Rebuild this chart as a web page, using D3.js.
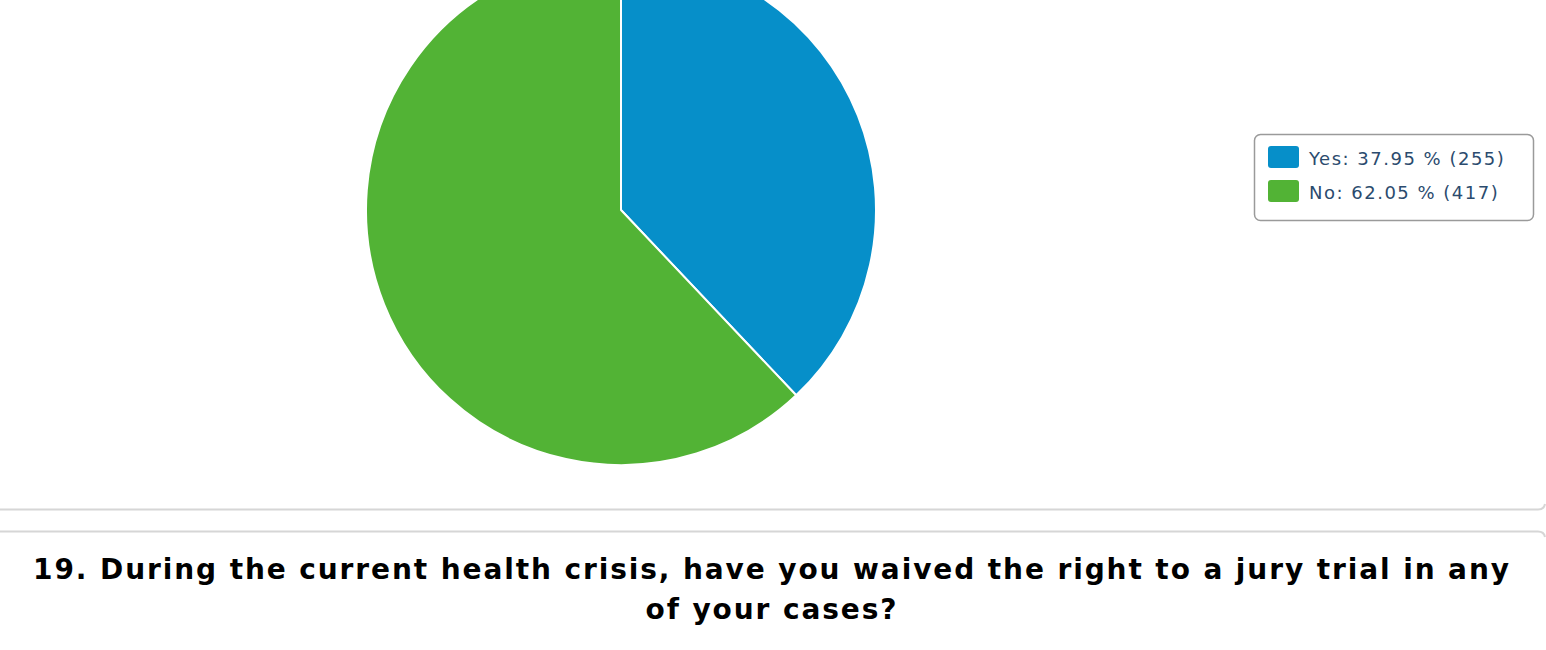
<!DOCTYPE html>
<html>
<head>
<meta charset="utf-8">
<script src="https://cdn.jsdelivr.net/npm/d3@7.9.0/dist/d3.min.js"></script>
<style>
  body { margin: 0; background: #fff; }
  svg { display: block; }
</style>
</head>
<body>
<div id="chart"></div>
<script>
// survey answers
const categories = ["Yes", "No"];
const counts = [255, 417];
const percents = [37.95, 62.05];
const colors = ["#068fc9", "#52b335"];
const titleLines = [
  "19. During the current health crisis, have you waived the right to a jury trial in any",
  "of your cases?"
];

const W = 1546, H = 650;

const svg = d3.select("#chart")
  .append("svg")
  .attr("width", W)
  .attr("height", H);

// pie
const cx = 621, cy = 210, radius = 255;
const data = categories.map((c, i) => ({ cat: c, value: counts[i], pct: percents[i], color: colors[i] }));

const pie = d3.pie().sort(null).value(d => d.value);
const arc = d3.arc().innerRadius(0).outerRadius(radius);

svg.append("g")
  .attr("transform", `translate(${cx},${cy})`)
  .selectAll("path")
  .data(pie(data))
  .join("path")
  .attr("d", arc)
  .attr("fill", d => d.data.color)
  .attr("stroke", "#fff")
  .attr("stroke-width", 2)
  .attr("stroke-linejoin", "round");

// legend
const legend = svg.append("g").attr("transform", "translate(1254,134)");
legend.append("rect")
  .attr("x", 0.5).attr("y", 0.5)
  .attr("width", 279).attr("height", 86)
  .attr("rx", 6)
  .attr("fill", "#fff")
  .attr("stroke", "#9a9a9a")
  .attr("stroke-width", 1.5);

const items = legend.selectAll("g.item")
  .data(data)
  .join("g")
  .attr("class", "item")
  .attr("transform", (d, i) => `translate(14,${12 + i * 34})`);

items.append("rect")
  .attr("width", 31).attr("height", 22)
  .attr("rx", 3)
  .attr("fill", d => d.color);

items.append("text")
  .attr("x", 41)
  .attr("y", 19)
  .attr("font-family", "DejaVu Sans, Verdana, sans-serif")
  .attr("font-size", 18)
  .attr("letter-spacing", 1.5)
  .attr("fill", "#2b4b6e")
  .text(d => `${d.cat}: ${d.pct.toFixed(2)} % (${d.value})`);

// separators
svg.append("path")
  .attr("d", `M0,509.5 H1538 Q1544,509.5 1545,504`)
  .attr("fill", "none")
  .attr("stroke", "#d6d6d6")
  .attr("stroke-width", 2);
svg.append("path")
  .attr("d", `M0,531.5 H1538 Q1544,531.5 1545,537`)
  .attr("fill", "none")
  .attr("stroke", "#d6d6d6")
  .attr("stroke-width", 2);

// title
svg.append("g")
  .selectAll("text")
  .data(titleLines)
  .join("text")
  .attr("x", 772)
  .attr("y", (d, i) => 579 + i * 40)
  .attr("text-anchor", "middle")
  .attr("font-family", "DejaVu Sans, Verdana, sans-serif")
  .attr("font-weight", "bold")
  .attr("font-size", 28)
  .attr("letter-spacing", 1.9)
  .attr("fill", "#000")
  .text(d => d);
</script>
</body>
</html>
